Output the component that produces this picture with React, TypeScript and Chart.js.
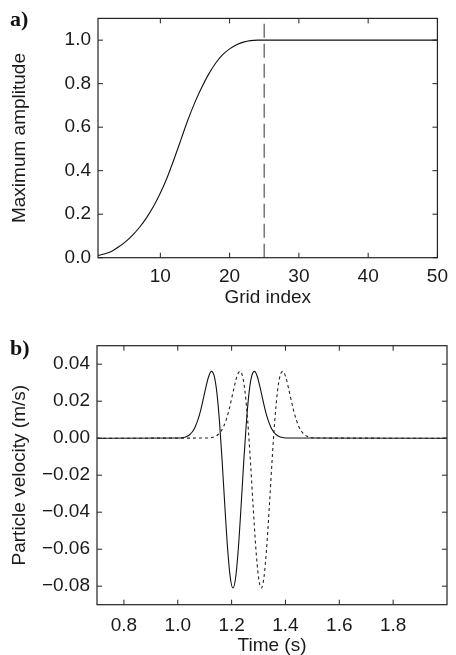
import React, { useEffect, useRef } from "react";
import { Chart, registerables } from "chart.js";

Chart.register(...registerables);

// ---------- Panel a) data ----------
const gridIndex = [
  1, 2, 3, 4, 5, 6, 7, 8, 9, 10, 11, 12, 13, 14, 15, 16, 17, 18, 19, 20, 21, 22, 23, 24, 25,
  26, 27, 28, 29, 30, 31, 32, 33, 34, 35, 36, 37, 38, 39, 40, 41, 42, 43, 44, 45, 46, 47, 48, 49, 50,
];
const maxAmplitude = [
  0.01, 0.018, 0.03, 0.05, 0.074, 0.104, 0.14, 0.183, 0.235, 0.297, 0.37, 0.455, 0.545, 0.635, 0.715,
  0.785, 0.845, 0.895, 0.933, 0.96, 0.979, 0.991, 0.998, 1.0, 1.0,
  1.0, 1.0, 1.0, 1.0, 1.0, 1.0, 1.0, 1.0, 1.0, 1.0, 1.0, 1.0, 1.0, 1.0, 1.0, 1.0, 1.0, 1.0, 1.0, 1.0,
  1.0, 1.0, 1.0, 1.0, 1.0,
];
const taperEdgeX = [25, 25];
const taperEdgeY = [0, 1.1];
const ampXTicks = [10, 20, 30, 40, 50];
const ampYTicks = [0, 0.2, 0.4, 0.6, 0.8, 1.0];

// ---------- Panel b) data ----------
const solidTime = [
  0.7,
  1.005, 1.015, 1.025, 1.035, 1.045, 1.055, 1.065, 1.075, 1.085, 1.095, 1.105, 1.115, 1.125, 1.135,
  1.145, 1.155, 1.165, 1.175, 1.185, 1.195, 1.205, 1.215, 1.225, 1.235, 1.245, 1.255, 1.265, 1.275,
  1.285, 1.295, 1.305, 1.315, 1.325, 1.335, 1.345, 1.355, 1.365, 1.375, 1.385, 1.395, 1.405,
  2.0,
];
const solidVelocity = [
  0,
  0.0001, 0.0002, 0.0005, 0.001, 0.002, 0.0036, 0.0062, 0.01, 0.0151, 0.0214, 0.0279, 0.0335, 0.0361,
  0.0338, 0.0249, 0.0089, -0.0128, -0.0371, -0.0595, -0.0753, -0.081, -0.0753, -0.0595, -0.0371,
  -0.0128, 0.0089, 0.0249, 0.0338, 0.0361, 0.0335, 0.0279, 0.0214, 0.0151, 0.01, 0.0062, 0.0036,
  0.002, 0.001, 0.0005, 0.0002, 0.0001,
  0,
];
const dashedTime = [
  0.7,
  1.11, 1.12, 1.13, 1.14, 1.15, 1.16, 1.17, 1.18, 1.19, 1.2, 1.21, 1.22, 1.23, 1.24, 1.25, 1.26,
  1.27, 1.28, 1.29, 1.3, 1.31, 1.32, 1.33, 1.34, 1.35, 1.36, 1.37, 1.38, 1.39, 1.4, 1.41, 1.42,
  1.43, 1.44, 1.45, 1.46, 1.47, 1.48, 1.49, 1.5, 1.51,
  2.0,
];
const dashedVelocity = [
  0,
  0.0001, 0.0002, 0.0005, 0.001, 0.002, 0.0036, 0.0062, 0.01, 0.0151, 0.0214, 0.0279, 0.0335, 0.0361,
  0.0338, 0.0249, 0.0089, -0.0128, -0.0371, -0.0595, -0.0753, -0.081, -0.0753, -0.0595, -0.0371,
  -0.0128, 0.0089, 0.0249, 0.0338, 0.0361, 0.0335, 0.0279, 0.0214, 0.0151, 0.01, 0.0062, 0.0036,
  0.002, 0.001, 0.0005, 0.0002, 0.0001,
  0,
];
const timeTicks = [0.8, 1.0, 1.2, 1.4, 1.6, 1.8];
const velTicks = [-0.08, -0.06, -0.04, -0.02, 0.0, 0.02, 0.04];

const FONT = "'Liberation Sans', Arial, Helvetica, sans-serif";
const TEXT = "#1a1a1a";

const framePlugin = {
  id: "frameTicks",
  afterDatasetsDraw(chart: any) {
    const { ctx, chartArea: a, scales } = chart;
    const x = scales.x;
    const y = scales.y;
    ctx.save();
    ctx.strokeStyle = "#222";
    ctx.lineWidth = 1.2;
    ctx.strokeRect(a.left, a.top, a.right - a.left, a.bottom - a.top);
    ctx.beginPath();
    const L = 5;
    x.ticks.forEach((t: any) => {
      const px = x.getPixelForValue(t.value);
      ctx.moveTo(px, a.bottom);
      ctx.lineTo(px, a.bottom - L);
      ctx.moveTo(px, a.top);
      ctx.lineTo(px, a.top + L);
    });
    y.ticks.forEach((t: any) => {
      const py = y.getPixelForValue(t.value);
      ctx.moveTo(a.left, py);
      ctx.lineTo(a.left + L, py);
      ctx.moveTo(a.right, py);
      ctx.lineTo(a.right - L, py);
    });
    ctx.lineWidth = 1;
    ctx.stroke();
    ctx.restore();
  },
};

function pts(xs: number[], ys: number[]) {
  return xs.map((v, i) => ({ x: v, y: ys[i] }));
}

function fmtMinus(s: string) {
  return s.startsWith("-") ? "\u2212" + s.slice(1) : s;
}

function axisCommon() {
  return {
    grid: { display: false, drawTicks: false },
    border: { display: false },
  };
}

function TopChart() {
  const ref = useRef<HTMLCanvasElement>(null);
  useEffect(() => {
    const chart = new Chart(ref.current!, {
      type: "line",
      data: {
        datasets: [
          {
            data: pts(gridIndex, maxAmplitude),
            borderColor: "#111",
            borderWidth: 1.1,
            pointRadius: 0,
            cubicInterpolationMode: "monotone",
          },
          {
            data: pts(taperEdgeX, taperEdgeY),
            borderColor: "#7a7a7a",
            borderWidth: 1.6,
            borderDash: [14, 6],
            pointRadius: 0,
          },
        ],
      },
      options: {
        animation: false,
        responsive: false,
        events: [],
        layout: { autoPadding: false, padding: { top: 14.7, right: 9, left: 0, bottom: 0 } },
        plugins: { legend: { display: false }, tooltip: { enabled: false } },
        scales: {
          x: {
            type: "linear",
            min: 1,
            max: 50,
            ...axisCommon(),
            afterFit: (s: any) => {
              s.height = 52.3;
            },
            afterBuildTicks: (s: any) => {
              s.ticks = ampXTicks.map((v) => ({ value: v }));
            },
            ticks: {
              color: TEXT,
              font: { family: FONT, size: 19 },
              padding: 8,
              maxRotation: 0,
              callback: (v: any) => String(v),
            },
            title: {
              display: true,
              text: "Grid index",
              color: TEXT,
              font: { family: FONT, size: 19, lineHeight: 1 },
              padding: { top: 0, bottom: 3 },
            },
          },
          y: {
            type: "linear",
            min: 0,
            max: 1.1,
            ...axisCommon(),
            afterFit: (s: any) => {
              s.width = 98;
            },
            afterBuildTicks: (s: any) => {
              s.ticks = ampYTicks.map((v) => ({ value: v }));
            },
            ticks: {
              color: TEXT,
              font: { family: FONT, size: 19 },
              padding: 7,
              callback: (v: any) => Number(v).toFixed(1),
            },
            title: {
              display: true,
              text: "Maximum amplitude",
              color: TEXT,
              font: { family: FONT, size: 19, lineHeight: 1 },
              padding: { top: 10, bottom: 0 },
            },
          },
        },
      },
      plugins: [framePlugin],
    } as any);
    return () => chart.destroy();
  }, []);
  return <canvas ref={ref} width={456} height={310} style={{ display: "block" }} />;
}

function BottomChart() {
  const ref = useRef<HTMLCanvasElement>(null);
  useEffect(() => {
    const chart = new Chart(ref.current!, {
      type: "line",
      data: {
        datasets: [
          {
            data: pts(dashedTime, dashedVelocity),
            borderColor: "#222",
            borderWidth: 1.1,
            borderDash: [3, 3],
            pointRadius: 0,
            cubicInterpolationMode: "monotone",
          },
          {
            data: pts(solidTime, solidVelocity),
            borderColor: "#111",
            borderWidth: 1.1,
            pointRadius: 0,
            cubicInterpolationMode: "monotone",
          },
        ],
      },
      options: {
        animation: false,
        responsive: false,
        events: [],
        layout: { autoPadding: false, padding: { top: 35.7, right: 9, left: 0, bottom: 0 } },
        plugins: { legend: { display: false }, tooltip: { enabled: false } },
        scales: {
          x: {
            type: "linear",
            min: 0.7,
            max: 2.0,
            ...axisCommon(),
            afterFit: (s: any) => {
              s.height = 50.3;
            },
            afterBuildTicks: (s: any) => {
              s.ticks = timeTicks.map((v) => ({ value: v }));
            },
            ticks: {
              color: TEXT,
              font: { family: FONT, size: 19 },
              padding: 9.5,
              maxRotation: 0,
              callback: (v: any) => Number(v).toFixed(1),
            },
            title: {
              display: true,
              text: "Time (s)",
              color: TEXT,
              font: { family: FONT, size: 19, lineHeight: 1 },
              padding: { top: 0, bottom: 0 },
            },
          },
          y: {
            type: "linear",
            min: -0.09,
            max: 0.05,
            ...axisCommon(),
            afterFit: (s: any) => {
              s.width = 97;
            },
            afterBuildTicks: (s: any) => {
              s.ticks = velTicks.map((v) => ({ value: v }));
            },
            ticks: {
              color: TEXT,
              font: { family: FONT, size: 19 },
              padding: 7,
              callback: (v: any) => fmtMinus(Number(v).toFixed(2)),
            },
            title: {
              display: true,
              text: "Particle velocity (m/s)",
              color: TEXT,
              font: { family: FONT, size: 19, lineHeight: 1 },
              padding: { top: 10, bottom: 0 },
            },
          },
        },
      },
      plugins: [framePlugin],
    } as any);
    return () => chart.destroy();
  }, []);
  return <canvas ref={ref} width={456} height={345} style={{ display: "block" }} />;
}

const panelLabel: React.CSSProperties = {
  position: "absolute",
  left: 10,
  fontFamily: "'Liberation Serif', 'Times New Roman', serif",
  fontWeight: "bold",
  fontSize: 22,
  lineHeight: "22px",
  color: "#111",
};

export default function App() {
  return (
    <div
      style={{
        position: "absolute",
        left: 0,
        top: 0,
        width: 456,
        height: 655,
        background: "#fff",
        overflow: "hidden",
      }}
    >
      <div style={{ position: "absolute", left: 0, top: 0 }}>
        <TopChart />
      </div>
      <div style={{ position: "absolute", left: 0, top: 310 }}>
        <BottomChart />
      </div>
      <span style={{ ...panelLabel, top: 8 }}>a)</span>
      <span style={{ ...panelLabel, top: 337 }}>b)</span>
    </div>
  );
}
